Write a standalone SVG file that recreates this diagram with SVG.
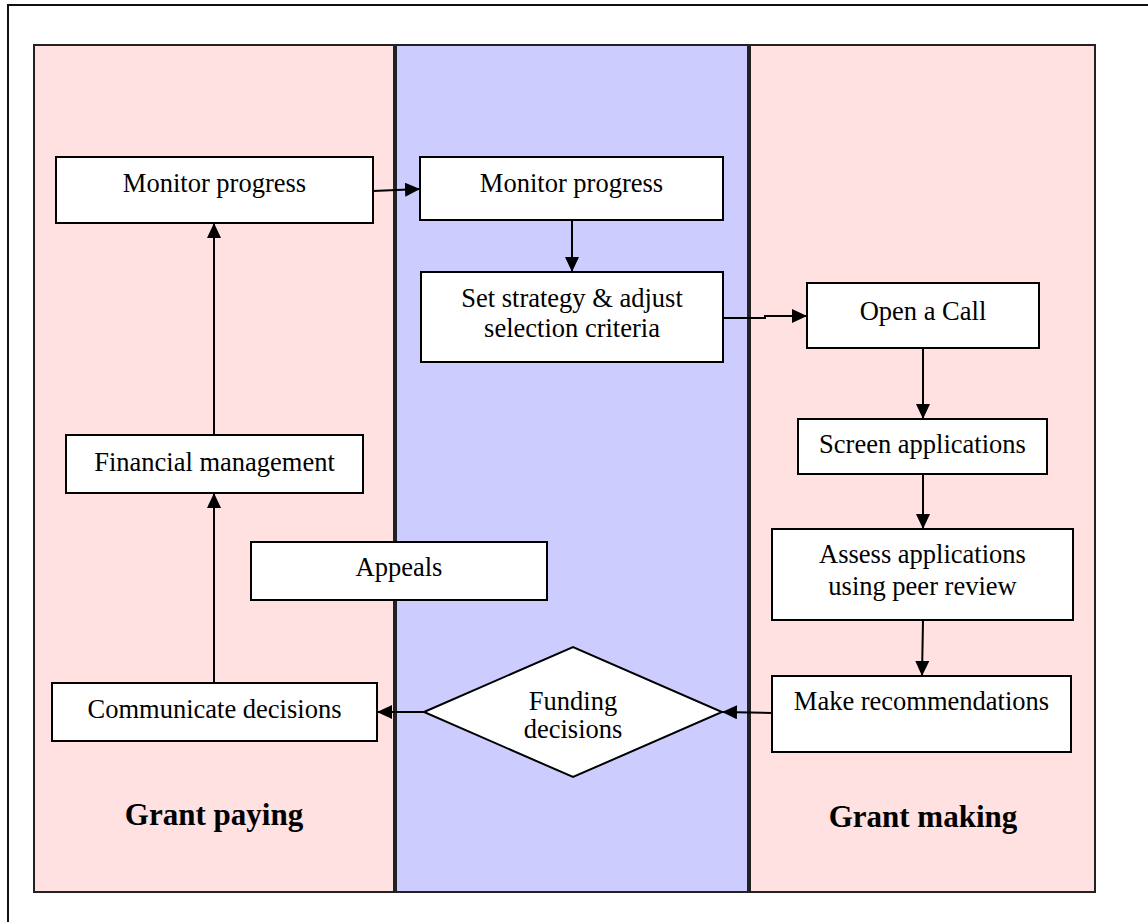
<svg xmlns="http://www.w3.org/2000/svg" width="1148" height="922" viewBox="0 0 1148 922">
<style>
.lane{stroke:#222;stroke-width:2}
.pink{fill:#FFE1E2}
.blue{fill:#CCCCFF}
.box{fill:#fff;stroke:#000;stroke-width:2}
.t{font-family:"Liberation Serif","Times New Roman",serif;font-size:26.5px;fill:#000;text-anchor:middle}
.h{font-family:"Liberation Serif","Times New Roman",serif;font-size:31px;font-weight:bold;fill:#000;text-anchor:middle}
.c{fill:none;stroke:#000;stroke-width:2;marker-end:url(#ah)}
</style>
<defs>
<marker id="ah" markerUnits="userSpaceOnUse" markerWidth="16" markerHeight="16" refX="15" refY="7" orient="auto">
<path d="M0,0 L15,7 L0,14 z" fill="#000"/>
</marker>
</defs>
<rect width="1148" height="922" fill="#fff"/>
<rect x="8" y="5" width="1200" height="1000" fill="none" stroke="#111" stroke-width="2"/>
<g id="lane-grant-paying">
<rect class="lane pink" x="34" y="45" width="360" height="847"/>
<text class="h" x="214" y="825">Grant paying</text>
</g>
<g id="lane-middle">
<rect class="lane blue" x="396" y="45" width="352" height="847"/>
</g>
<g id="lane-grant-making">
<rect class="lane pink" x="750" y="45" width="345" height="847"/>
<text class="h" x="923" y="827">Grant making</text>
</g>
<g id="connectors">
<path class="c" d="M373,191 L420,189"/>
<path class="c" d="M572,220 L572,272"/>
<path class="c" d="M723,318 H765 V316 H807"/>
<path class="c" d="M923,348 V419"/>
<path class="c" d="M923,474 V529"/>
<path class="c" d="M923,620 L922,676"/>
<path class="c" d="M772,713 L722,712"/>
<path class="c" d="M424,712 L377,712"/>
<path class="c" d="M214,683 V493"/>
<path class="c" d="M214,435 V223"/>
</g>
<g id="monitor-progress-left">
<rect class="box" x="56" y="157" width="317" height="66"/>
<text class="t" x="214.5" y="192">Monitor progress</text>
</g>
<g id="monitor-progress-middle">
<rect class="box" x="420" y="157" width="303" height="63"/>
<text class="t" x="571.5" y="192">Monitor progress</text>
</g>
<g id="set-strategy">
<rect class="box" x="421" y="272" width="302" height="90"/>
<text class="t" x="572" y="307">Set strategy &amp; adjust</text>
<text class="t" x="572" y="337">selection criteria</text>
</g>
<g id="open-a-call">
<rect class="box" x="807" y="283" width="232" height="65"/>
<text class="t" x="923" y="320">Open a Call</text>
</g>
<g id="screen-applications">
<rect class="box" x="798" y="419" width="249" height="55"/>
<text class="t" x="922.5" y="453">Screen applications</text>
</g>
<g id="assess-applications">
<rect class="box" x="772" y="529" width="301" height="91"/>
<text class="t" x="922.5" y="563">Assess applications</text>
<text class="t" x="922.5" y="595">using peer review</text>
</g>
<g id="make-recommendations">
<rect class="box" x="772" y="676" width="299" height="76"/>
<text class="t" x="921.5" y="710">Make recommendations</text>
</g>
<g id="funding-decisions">
<polygon class="box" points="424,712 573,647 722,712 573,777"/>
<text class="t" x="573" y="710">Funding</text>
<text class="t" x="573" y="738">decisions</text>
</g>
<g id="communicate-decisions">
<rect class="box" x="52" y="683" width="325" height="58"/>
<text class="t" x="214.5" y="718">Communicate decisions</text>
</g>
<g id="financial-management">
<rect class="box" x="66" y="435" width="297" height="58"/>
<text class="t" x="214.5" y="471">Financial management</text>
</g>
<g id="appeals">
<rect class="box" x="251" y="542" width="296" height="58"/>
<text class="t" x="399" y="576">Appeals</text>
</g>
</svg>
